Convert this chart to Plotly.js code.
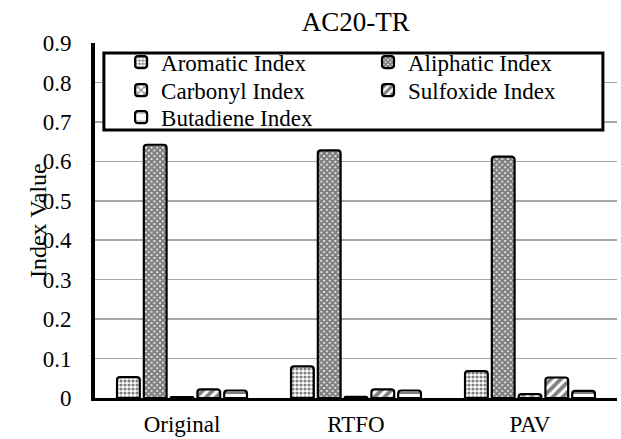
<!DOCTYPE html>
<html>
<head>
<meta charset="utf-8">
<script src="https://cdn.plot.ly/plotly-3.0.1.min.js"></script>
<style>html,body{margin:0;padding:0;background:#fff;}#chart{width:621px;height:439px;}</style>
</head>
<body>
<div id="chart"></div>
<script>
const categories = ["Original", "RTFO", "PAV"];
const seriesNames = ["Aromatic Index", "Aliphatic Index", "Carbonyl Index", "Sulfoxide Index", "Butadiene Index"];
const aromatic = [0.053, 0.080, 0.068];
const aliphatic = [0.642, 0.628, 0.612];
const carbonyl = [0.002, 0.003, 0.010];
const sulfoxide = [0.022, 0.022, 0.052];
const butadiene = [0.019, 0.019, 0.018];
const yTicks = [0, 0.1, 0.2, 0.3, 0.4, 0.5, 0.6, 0.7, 0.8, 0.9];
const yTickText = ["0", "0.1", "0.2", "0.3", "0.4", "0.5", "0.6", "0.7", "0.8", "0.9"];

const values = [aromatic, aliphatic, carbonyl, sulfoxide, butadiene];
const patterns = [
  {shape: ".", size: 4, solidity: 0.5},
  {shape: "x", size: 4, solidity: 0.8},
  {shape: "x", size: 6, solidity: 0.4},
  {shape: "/", size: 7, solidity: 0.55},
  {shape: "-", size: 20, solidity: 0.1}
];
const font = "Liberation Serif, Times New Roman, serif";
const legendIds = ["legend", "legend2", "legend3", "legend4", "legend5"];
// legend grid: column x (paper) and row centre y (paper)
const legendX = [0.050, 0.523, 0.050, 0.523, 0.050];
const legendY = [0.946, 0.946, 0.867, 0.867, 0.791];

const traces = values.map((v, i) => ({
  type: "bar",
  name: seriesNames[i],
  x: categories,
  y: v,
  legend: legendIds[i],
  marker: {
    color: "#ffffff",
    line: {color: "#000000", width: 2.2},
    cornerradius: 3,
    pattern: Object.assign({fgcolor: "#000000", bgcolor: "#ffffff", fillmode: "overlay"}, patterns[i])
  }
}));

const layout = {
  width: 621, height: 439,
  margin: {l: 95, r: 4, t: 43, b: 41},
  paper_bgcolor: "#ffffff", plot_bgcolor: "#ffffff",
  font: {family: font, size: 22, color: "#000000"},
  title: {text: "AC20-TR", font: {family: font, size: 27, color: "#000"}, x: 0.573, xanchor: "center", y: 0.95, yanchor: "middle"},
  barmode: "group",
  bargap: 0.23,
  bargroupgap: 0.15,
  showlegend: true,
  xaxis: {
    type: "category",
    showgrid: false,
    showline: true, linecolor: "#000", linewidth: 3,
    ticks: "", ticklabelstandoff: 3,
    tickfont: {family: font, size: 23, color: "#000"},
    zeroline: false
  },
  yaxis: {
    range: [0, 0.9],
    tickvals: yTicks, ticktext: yTickText,
    showgrid: true, gridcolor: "#a6a6a6", gridwidth: 1.5,
    showline: true, linecolor: "#000", linewidth: 4,
    ticks: "", ticklabelstandoff: 15,
    tickfont: {family: font, size: 23, color: "#000"},
    zeroline: false
  },
  shapes: [{
    type: "rect", xref: "paper", yref: "paper",
    x0: 0.017, x1: 0.973, y0: 0.755, y1: 0.972,
    line: {color: "#000", width: 3}, fillcolor: "#ffffff", layer: "above"
  }],
  annotations: [{
    text: "Index Value", xref: "paper", yref: "paper",
    x: -0.11, y: 0.5, xanchor: "center", yanchor: "middle",
    textangle: -90, showarrow: false,
    font: {family: font, size: 24, color: "#000"}
  }]
};
legendIds.forEach((id, i) => {
  layout[id] = {
    orientation: "v",
    x: legendX[i], xanchor: "left",
    y: legendY[i], yanchor: "middle",
    bgcolor: "rgba(0,0,0,0)",
    borderwidth: 0,
    font: {family: font, size: 23, color: "#000"},
    itemwidth: 30
  };
});

Plotly.newPlot("chart", traces, layout, {displayModeBar: false, staticPlot: true});
</script>
</body>
</html>
